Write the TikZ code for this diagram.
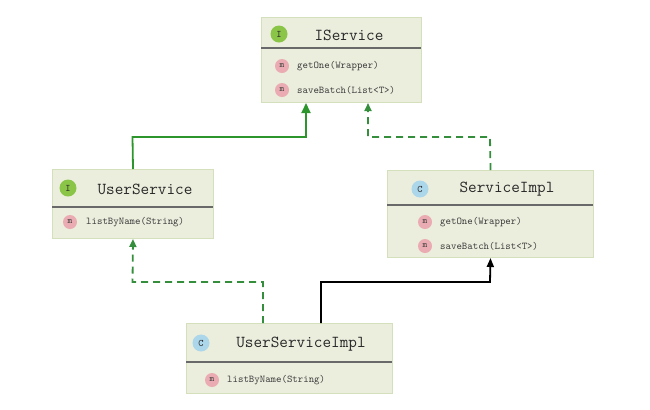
\documentclass[tikz,border=0pt]{standalone}
\usetikzlibrary{arrows.meta}
\definecolor{boxfill}{RGB}{235,238,221}
\definecolor{boxborder}{RGB}{212,224,188}
\definecolor{divcol}{RGB}{105,105,105}
\definecolor{greenline}{RGB}{44,150,44}
\definecolor{greendash}{RGB}{52,142,60}
\definecolor{iconI}{RGB}{139,197,72}
\definecolor{iconC}{RGB}{172,214,234}
\definecolor{iconM}{RGB}{234,172,178}
\definecolor{titlecol}{RGB}{40,40,40}
\definecolor{methcol}{RGB}{60,60,60}
\begin{document}
\begin{tikzpicture}[x=1bp,y=-1bp,
  umlbox/.style={draw=boxborder,fill=boxfill,line width=1bp,inner sep=0pt,anchor=north west},
  divider/.style={draw=divcol,line width=1.6bp},
  bigicon/.style={circle,inner sep=0pt,minimum size=17bp,text=titlecol,font=\ttfamily\fontsize{10}{11}\selectfont},
  micon/.style={circle,inner sep=0pt,minimum size=14bp,fill=iconM,text=methcol,font=\ttfamily\fontsize{9}{10}\selectfont},
  title/.style={inner sep=0pt,text=titlecol,font=\ttfamily\fontsize{16.8}{18}\selectfont},
  meth/.style={inner sep=0pt,anchor=west,text=methcol,font=\ttfamily\fontsize{10.4}{12}\selectfont},
  realize/.style={draw=greenline,line width=1.8bp,-{Triangle[width=9bp,length=10bp]}},
  implem/.style={draw=greendash,line width=1.8bp,dash pattern=on 7bp off 5bp,-{Triangle[width=7bp,length=8bp]}},
  extend/.style={draw=black,line width=1.8bp,-{Triangle[width=7bp,length=9bp]}}]
\useasboundingbox (0,0) rectangle (650,409);

% IService
\node[umlbox,minimum width=160bp,minimum height=85bp] (isvc) at (261,17) {};
\draw[divider] (261,48) -- (421,48);
\node[bigicon,fill=iconI] (isvcicon) at (279,34) {I};
\node[title] (isvctitle) at (349,35) {IService};
\node[micon] (isvcm1) at (282,66) {m};
\node[meth] (isvct1) at (297,66) {getOne(Wrapper)};
\node[micon] (isvcm2) at (282,90) {m};
\node[meth] (isvct2) at (297,90) {saveBatch(List<T>)};

% UserService
\node[umlbox,minimum width=161bp,minimum height=69bp] (usvc) at (52,169) {};
\draw[divider] (52,207) -- (213,207);
\node[bigicon,fill=iconI] (usvcicon) at (68,188) {I};
\node[title] (usvctitle) at (145,189) {UserService};
\node[micon] (usvcm1) at (70,222) {m};
\node[meth] (usvct1) at (86,222) {listByName(String)};

% ServiceImpl
\node[umlbox,minimum width=206bp,minimum height=87bp] (simpl) at (387,170) {};
\draw[divider] (387,205) -- (593,205);
\node[bigicon,fill=iconC] (simplicon) at (420,189) {C};
\node[title] (simpltitle) at (507,189) {ServiceImpl};
\node[micon] (simplm1) at (425,222) {m};
\node[meth] (simplt1) at (440,222) {getOne(Wrapper)};
\node[micon] (simplm2) at (425,246) {m};
\node[meth] (simplt2) at (440,246) {saveBatch(List<T>)};

% UserServiceImpl
\node[umlbox,minimum width=206bp,minimum height=70bp] (usimpl) at (186,323) {};
\draw[divider] (186,362) -- (392,362);
\node[bigicon,fill=iconC] (usimplicon) at (201,343) {C};
\node[title] (usimpltitle) at (301,344) {UserServiceImpl};
\node[micon] (usimplm1) at (212,380) {m};
\node[meth] (usimplt1) at (227,380) {listByName(String)};

% bend points
\coordinate (b1) at (132.5,137);
\coordinate (b2) at (306,137);
\coordinate (b3) at (490,137);
\coordinate (b4) at (368,137);
\coordinate (b5) at (263,282);
\coordinate (b6) at (132.5,282);
\coordinate (b7) at (321,282);
\coordinate (b8) at (490,282);

% connectors
\draw[realize] (usvc.north) -- (b1) -- (b2) -- (b2 |- isvc.south);
\draw[implem] (simpl.north) -- (b3) -- (b4) -- (b4 |- isvc.south);
\draw[implem] (b5 |- usimpl.north) -- (b5) -- (b6) -- (usvc.south);
\draw[extend] (b7 |- usimpl.north) -- (b7) -- (b8) -- (simpl.south);
\end{tikzpicture}
\end{document}
